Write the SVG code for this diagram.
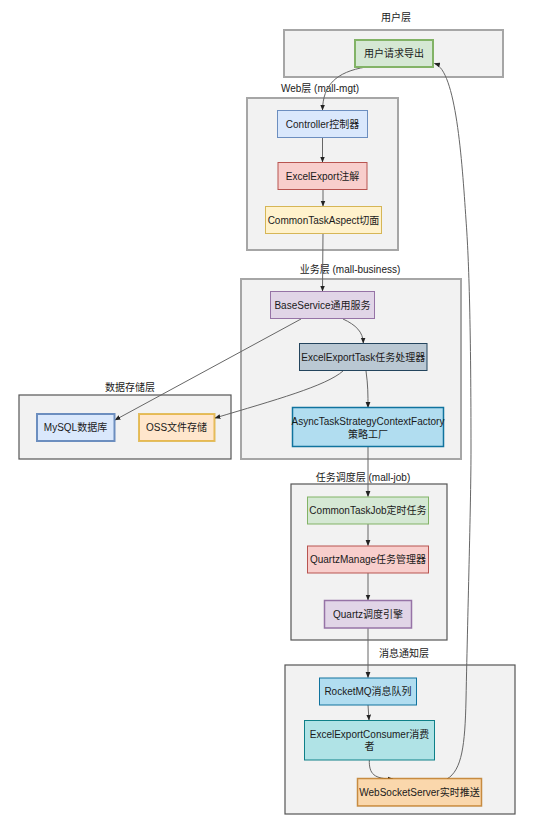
<svg xmlns="http://www.w3.org/2000/svg" width="540" height="833" viewBox="0 0 540 833">
<style>
text{font-family:"Liberation Sans","Noto Sans CJK SC",Arial,sans-serif;font-size:10px;fill:#1a1a1a;text-anchor:middle}
.ca{fill:#f2f2f2;stroke:#a6a6a6;stroke-width:2}
.cb{fill:#f2f2f2;stroke:#555555;stroke-width:1.2}
.e{fill:none;stroke:#666666;stroke-width:1;marker-end:url(#ar)}
.n{stroke-width:1.5}
</style>
<defs>
<marker id="ar" viewBox="0 0 10 10" refX="9" refY="5" markerWidth="6" markerHeight="6" orient="auto" markerUnits="userSpaceOnUse">
<path d="M0,1 L10,5 L0,9 Z" fill="#222222"/>
</marker>
</defs>
<rect width="540" height="833" fill="#ffffff"/>

<g id="layer-user">
<rect class="ca" x="284" y="30" width="219" height="47"/>
<text x="396" y="20.5">用户层</text>
</g>
<g id="layer-web">
<rect class="ca" x="247" y="98" width="151" height="152"/>
<text x="320" y="91.5">Web层 (mall-mgt)</text>
</g>
<g id="layer-business">
<rect class="ca" x="241" y="279" width="220" height="180"/>
<text x="350" y="272.5">业务层 (mall-business)</text>
</g>
<g id="layer-data">
<rect class="cb" x="19" y="395" width="212" height="64"/>
<text x="130" y="390.5">数据存储层</text>
</g>
<g id="layer-job">
<rect class="cb" x="291" y="484" width="156" height="156"/>
<text x="363" y="480.5">任务调度层 (mall-job)</text>
</g>
<g id="layer-msg">
<rect class="cb" x="285" y="665" width="230" height="149"/>
<text x="404" y="656.5">消息通知层</text>
</g>

<g id="connectors">
<path class="e" d="M366,67 C336,72 323,85 322.5,110"/>
<path class="e" d="M322.5,137 L322.5,162"/>
<path class="e" d="M323,189 L323,206"/>
<path class="e" d="M323,233 L322.5,291"/>
<path class="e" d="M343,319 C356,325 363,332 363.3,343"/>
<path class="e" d="M301,319 L115,420"/>
<path class="e" d="M343,371 C326,386 275,400 215,418"/>
<path class="e" d="M366,371 C368,385 368,395 368,407.5"/>
<path class="e" d="M368,447 L368,496.5"/>
<path class="e" d="M368,524 L368,545.5"/>
<path class="e" d="M368,573 L368,600"/>
<path class="e" d="M368,628 L368,677.5"/>
<path class="e" d="M368,705 L369,720"/>
<path class="e" d="M369.3,760 C369,774 374,779 393,779"/>
<path class="e" d="M447,779 C462,770 465,745 466,700 C468,600 471,500 471,450 C471,330 469,260 466,220 C462,160 456,70 434.5,63.5"/>
</g>

<g id="n-user-request">
<rect x="355" y="40" width="78" height="27" fill="#d5e8d4" stroke="#82b366" stroke-width="2"/>
<text x="394" y="57">用户请求导出</text>
</g>
<g id="n-controller">
<rect x="277.5" y="110.5" width="90" height="27" fill="#dae8fc" stroke="#6c8ebf"/>
<text x="322.5" y="127.5">Controller控制器</text>
</g>
<g id="n-excelexport">
<rect x="278" y="162.5" width="89" height="27" fill="#f8cecc" stroke="#b85450"/>
<text x="322.5" y="179.5">ExcelExport注解</text>
</g>
<g id="n-aspect">
<rect x="265.5" y="206.5" width="116" height="27" fill="#fff2cc" stroke="#d6b656"/>
<text x="323.5" y="223.5">CommonTaskAspect切面</text>
</g>
<g id="n-baseservice">
<rect x="270.5" y="291.5" width="104" height="27" fill="#e1d5e7" stroke="#9673a6"/>
<text x="322.5" y="308.5">BaseService通用服务</text>
</g>
<g id="n-exporttask">
<rect x="299.5" y="343.5" width="127.5" height="27" fill="#bac8d3" stroke="#23445d"/>
<text x="363.3" y="360.5">ExcelExportTask任务处理器</text>
</g>
<g id="n-factory">
<rect class="n" x="292.5" y="407.5" width="151" height="39" fill="#b1ddf0" stroke="#10739e"/>
<text x="368" y="425">AsyncTaskStrategyContextFactory</text>
<text x="368" y="437.5">策略工厂</text>
</g>
<g id="n-mysql">
<rect x="37" y="414" width="77.5" height="27" fill="#dae8fc" stroke="#6c8ebf" stroke-width="2"/>
<text x="75.5" y="431">MySQL数据库</text>
</g>
<g id="n-oss">
<rect x="139" y="414" width="75.5" height="27" fill="#ffe6cc" stroke="#d79b00" stroke-opacity="0.6" stroke-width="2"/>
<text x="176.5" y="431">OSS文件存储</text>
</g>
<g id="n-job">
<rect x="307.5" y="497" width="121" height="27" fill="#d5e8d4" stroke="#82b366"/>
<text x="368" y="514">CommonTaskJob定时任务</text>
</g>
<g id="n-quartzmanage">
<rect x="307.5" y="546" width="121" height="27" fill="#f8cecc" stroke="#b85450"/>
<text x="368" y="563">QuartzManage任务管理器</text>
</g>
<g id="n-quartz">
<rect class="n" x="324.5" y="600.5" width="87" height="27.5" fill="#e1d5e7" stroke="#9673a6"/>
<text x="368" y="617.5">Quartz调度引擎</text>
</g>
<g id="n-rocketmq">
<rect x="319.5" y="678" width="97" height="27" fill="#b1ddf0" stroke="#10739e"/>
<text x="368" y="695">RocketMQ消息队列</text>
</g>
<g id="n-consumer">
<rect x="304.5" y="720.5" width="130" height="39.5" fill="#b0e3e6" stroke="#0e8088"/>
<text x="369.5" y="738">ExcelExportConsumer消费</text>
<text x="369.5" y="750">者</text>
</g>
<g id="n-websocket">
<rect class="n" x="357.5" y="778.5" width="124" height="27.5" fill="#fad7ac" stroke="#b46504" stroke-opacity="0.7"/>
<text x="419.5" y="795.5">WebSocketServer实时推送</text>
</g>
</svg>
